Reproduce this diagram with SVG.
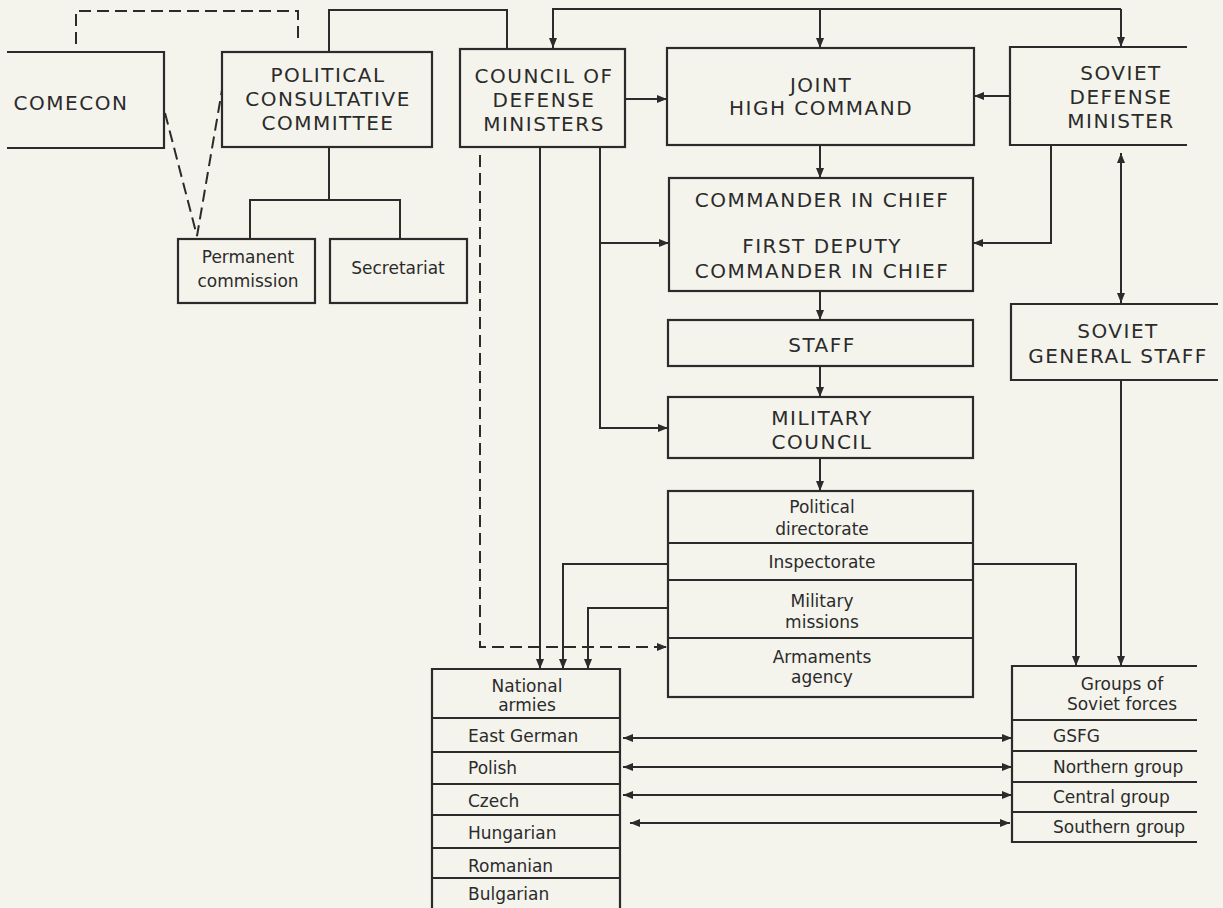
<svg xmlns="http://www.w3.org/2000/svg" width="1223" height="908" viewBox="0 0 1223 908">
<style>
.bx{fill:none;stroke:#2b2b2b;stroke-width:2.2}
.ln{fill:none;stroke:#2b2b2b;stroke-width:2}
.ds{fill:none;stroke:#2b2b2b;stroke-width:2;stroke-dasharray:12 6}
.a{marker-end:url(#ah)}
.a2{marker-start:url(#ah);marker-end:url(#ah)}
text{font-family:"DejaVu Sans","Liberation Sans",sans-serif;fill:#2b2b2b}
.cap{font-size:20px;letter-spacing:1.5px;text-anchor:middle}
.low{font-size:17px;text-anchor:middle}
.lowl{font-size:17px;text-anchor:start}
</style>
<defs>
<marker id="ah" viewBox="0 0 10 8" refX="10" refY="4" markerWidth="10" markerHeight="8" markerUnits="userSpaceOnUse" orient="auto-start-reverse"><path d="M0,0 L10,4 L0,8 z" fill="#2b2b2b"/></marker>
</defs>
<rect width="1223" height="908" fill="#f4f4ed"/>
<g id="connectors">
<path class="ds" d="M76,44 V11 H298 V44"/>
<path class="ds" d="M165,113 L197,236 L222,90"/>
<path class="ds a" d="M480,155 V647 H667"/>
<path class="ln" d="M329,147 V200"/>
<path class="ln" d="M250,239 V200 H400 V239"/>
<path class="ln" d="M329,52 V10 H507 V49"/>
<path class="ln a" d="M1121,9 H553 V48"/>
<path class="ln a" d="M1121,9 V47"/>
<path class="ln a" d="M820,9 V48"/>
<path class="ln a" d="M625,99 H667"/>
<path class="ln a" d="M1010,96 H974"/>
<path class="ln a" d="M820,145 V178"/>
<path class="ln a" d="M1051,145 V243 H973"/>
<path class="ln a" d="M540,147 V669"/>
<path class="ln a" d="M600,147 V428 H668"/>
<path class="ln a" d="M600,243 H669"/>
<path class="ln a" d="M820,291 V320"/>
<path class="ln a" d="M820,366 V397"/>
<path class="ln a" d="M820,458 V491"/>
<path class="ln a2" d="M1121,153 V303"/>
<path class="ln a" d="M668,564 H563 V669"/>
<path class="ln a" d="M668,608 H588 V669"/>
<path class="ln a" d="M973,564 H1076 V666"/>
<path class="ln a" d="M1121,380 V666"/>
<path class="ln a2" d="M623,738 H1012"/>
<path class="ln a2" d="M623,767 H1012"/>
<path class="ln a2" d="M623,795 H1012"/>
<path class="ln a2" d="M630,823 H1010"/>
</g>
<g id="comecon">
<path class="bx" d="M7,52 H164 V148 H7"/>
<text class="cap" x="71" y="110">COMECON</text>
</g>
<g id="pcc">
<rect class="bx" x="222" y="52" width="210" height="95"/>
<text class="cap" x="328" y="82">POLITICAL</text>
<text class="cap" x="328" y="106">CONSULTATIVE</text>
<text class="cap" x="328" y="130">COMMITTEE</text>
</g>
<g id="permanent">
<rect class="bx" x="178" y="239" width="137" height="64"/>
<text class="low" x="248" y="263">Permanent</text>
<text class="low" x="248" y="287">commission</text>
</g>
<g id="secretariat">
<rect class="bx" x="330" y="239" width="137" height="64"/>
<text class="low" x="398" y="274">Secretariat</text>
</g>
<g id="council">
<rect class="bx" x="460" y="49" width="165" height="98"/>
<text class="cap" x="544" y="83">COUNCIL OF</text>
<text class="cap" x="544" y="107">DEFENSE</text>
<text class="cap" x="544" y="131">MINISTERS</text>
</g>
<g id="jhc">
<rect class="bx" x="667" y="48" width="307" height="97"/>
<text class="cap" x="821" y="92">JOINT</text>
<text class="cap" x="821" y="115">HIGH COMMAND</text>
</g>
<g id="sdm">
<path class="bx" d="M1187,47 H1010 V145 H1187"/>
<text class="cap" x="1121" y="80">SOVIET</text>
<text class="cap" x="1121" y="104">DEFENSE</text>
<text class="cap" x="1121" y="128">MINISTER</text>
</g>
<g id="commander">
<rect class="bx" x="669" y="178" width="304" height="113"/>
<text class="cap" x="822" y="207">COMMANDER IN CHIEF</text>
<text class="cap" x="822" y="253">FIRST DEPUTY</text>
<text class="cap" x="822" y="278">COMMANDER IN CHIEF</text>
</g>
<g id="staff">
<rect class="bx" x="668" y="320" width="305" height="46"/>
<text class="cap" x="822" y="352">STAFF</text>
</g>
<g id="military-council">
<rect class="bx" x="668" y="397" width="305" height="61"/>
<text class="cap" x="822" y="425">MILITARY</text>
<text class="cap" x="822" y="449">COUNCIL</text>
</g>
<g id="directorates">
<rect class="bx" x="668" y="491" width="305" height="206"/>
<path class="bx" d="M668,543 H973 M668,580 H973 M668,638 H973"/>
<text class="low" x="822" y="513">Political</text>
<text class="low" x="822" y="535">directorate</text>
<text class="low" x="822" y="568">Inspectorate</text>
<text class="low" x="822" y="607">Military</text>
<text class="low" x="822" y="628">missions</text>
<text class="low" x="822" y="663">Armaments</text>
<text class="low" x="822" y="683">agency</text>
</g>
<g id="sgs">
<path class="bx" d="M1218,304 H1011 V380 H1218"/>
<text class="cap" x="1118" y="338">SOVIET</text>
<text class="cap" x="1118" y="363">GENERAL STAFF</text>
</g>
<g id="national-armies">
<path class="bx" d="M620,920 V669 H432 V920"/>
<path class="bx" d="M432,718 H620 M432,752 H620 M432,784 H620 M432,815 H620 M432,848 H620 M432,878 H620"/>
<text class="low" x="527" y="692">National</text>
<text class="low" x="527" y="711">armies</text>
<text class="lowl" x="468" y="742">East German</text>
<text class="lowl" x="468" y="774">Polish</text>
<text class="lowl" x="468" y="807">Czech</text>
<text class="lowl" x="468" y="839">Hungarian</text>
<text class="lowl" x="468" y="872">Romanian</text>
<text class="lowl" x="468" y="900">Bulgarian</text>
</g>
<g id="groups">
<path class="bx" d="M1197,666 H1012 V842 H1197"/>
<path class="bx" d="M1012,720 H1197 M1012,751 H1197 M1012,782 H1197 M1012,812 H1197"/>
<text class="low" x="1122" y="690">Groups of</text>
<text class="low" x="1122" y="710">Soviet forces</text>
<text class="lowl" x="1053" y="742">GSFG</text>
<text class="lowl" x="1053" y="773">Northern group</text>
<text class="lowl" x="1053" y="803">Central group</text>
<text class="lowl" x="1053" y="833">Southern group</text>
</g>
</svg>
